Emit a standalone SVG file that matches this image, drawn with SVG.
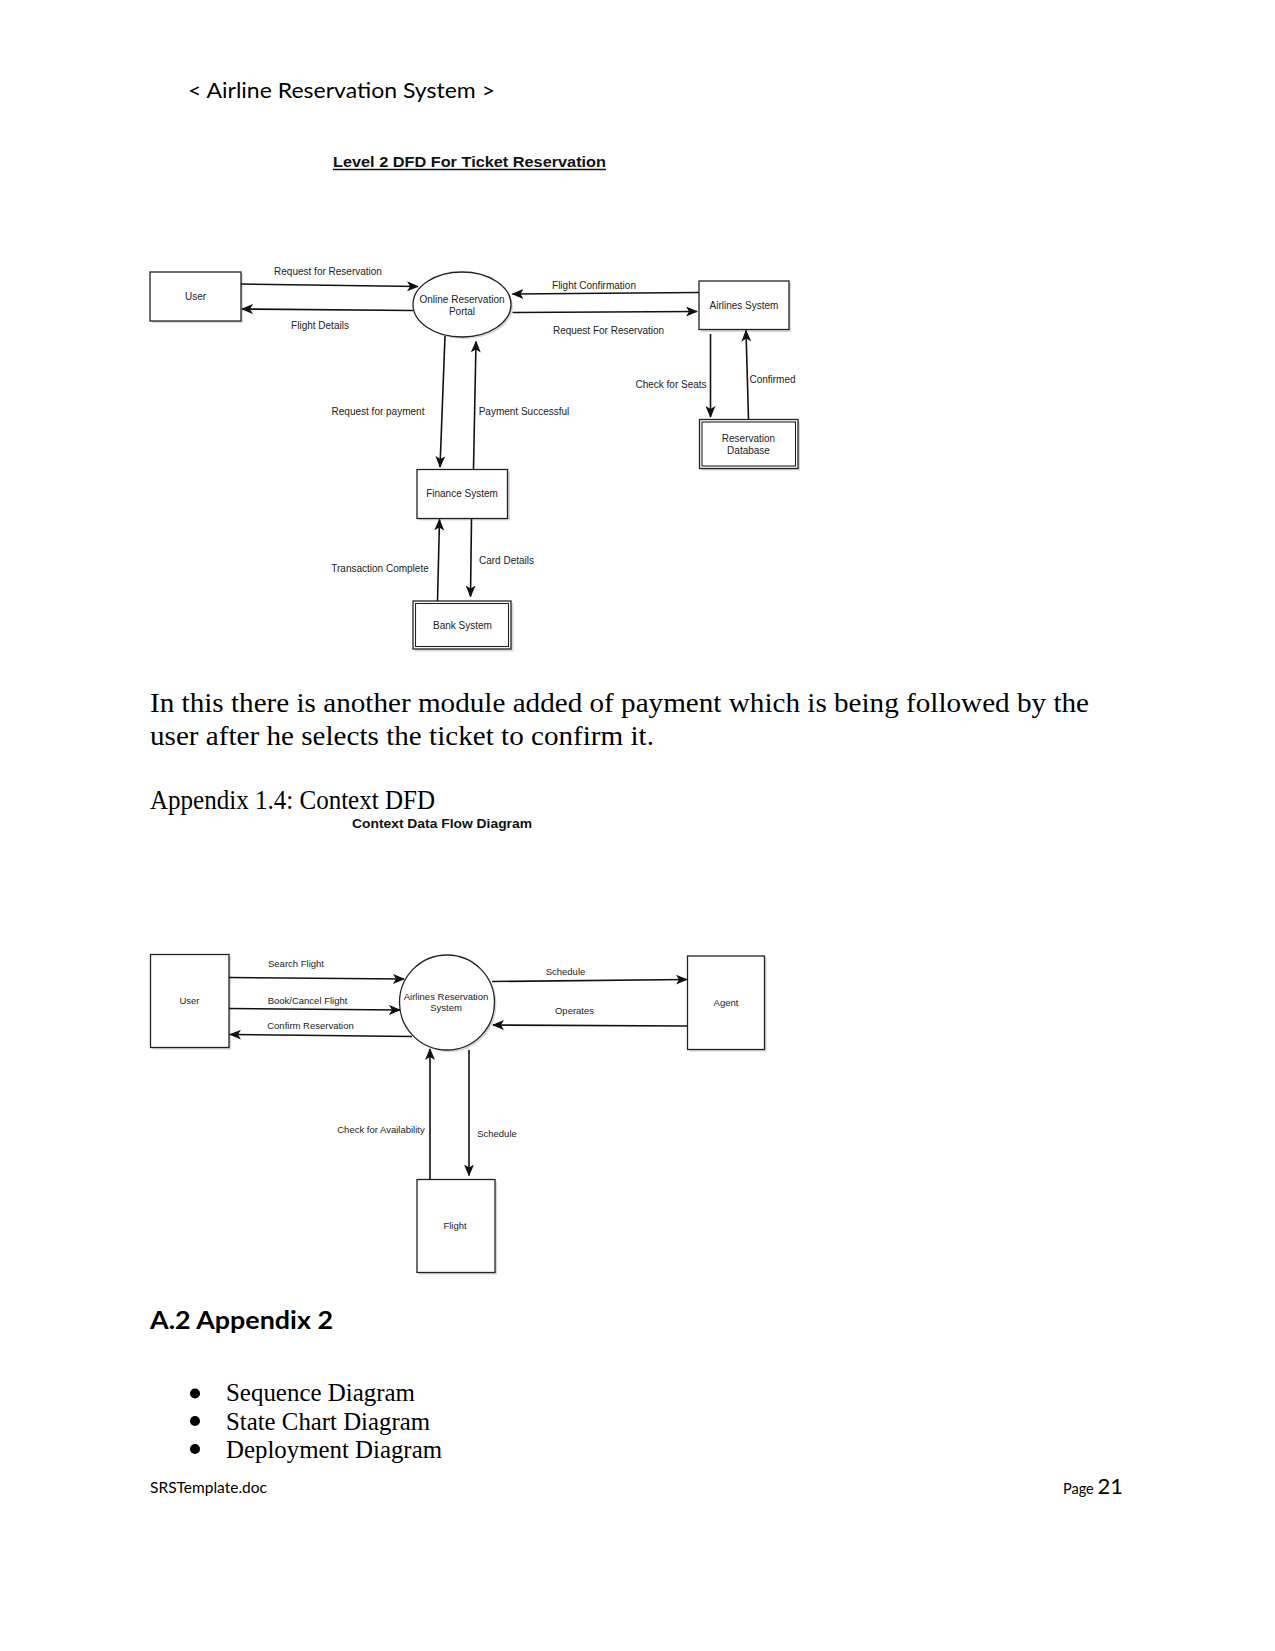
<svg xmlns="http://www.w3.org/2000/svg" width="1275" height="1651" viewBox="0 0 1275 1651">
<defs>
<style>
.bg{fill:#ffffff}
.box{fill:#ffffff;stroke:#222;stroke-width:1.3}
.shadow{fill:#d8d8d8;stroke:none}
.ln{stroke:#111;stroke-width:1.6;fill:none}
.lbl{font-family:"Liberation Sans",Arial,sans-serif;font-size:10px;fill:#222}
.lbl2{font-family:"Liberation Sans",Arial,sans-serif;font-size:9.5px;fill:#222}
.c{text-anchor:middle}
.serif{font-family:"Liberation Serif","Times New Roman",serif;fill:#000}
.lato{font-family:Lato,"Open Sans",sans-serif;fill:#000}
</style>
<marker id="ah" markerUnits="userSpaceOnUse" markerWidth="12" markerHeight="10" viewBox="0 0 12 10" refX="11" refY="5" orient="auto">
<path d="M0,0 L12,5 L0,10 L3,5 z" fill="#111"/>
</marker>
</defs>
<rect class="bg" x="0" y="0" width="1275" height="1651"/>

<!-- page texts -->
<text class="lato" x="188" y="98" font-size="21.5" textLength="307" lengthAdjust="spacingAndGlyphs">&lt; Airline Reservation System &gt;</text>
<text x="333" y="167" font-family="Liberation Sans,Arial,sans-serif" font-weight="bold" font-size="15" textLength="273" lengthAdjust="spacingAndGlyphs" fill="#111">Level 2 DFD For Ticket Reservation</text>
<line x1="333" y1="169.5" x2="606" y2="169.5" stroke="#111" stroke-width="1.3"/>

<!-- Level 2 DFD nodes -->
<g id="l2-user">
<rect class="shadow" x="152" y="274" width="91" height="49"/>
<rect class="box" x="150" y="272" width="91" height="49"/>
<text class="lbl c" x="195.5" y="300">User</text>
</g>
<g id="l2-portal">
<ellipse cx="464" cy="306.5" rx="49" ry="32.5" fill="#d8d8d8"/>
<ellipse cx="462" cy="304.5" rx="49" ry="32.5" class="box"/>
<text class="lbl c" x="462" y="303">Online Reservation</text>
<text class="lbl c" x="462" y="314.5">Portal</text>
</g>
<g id="l2-airlines">
<rect class="shadow" x="701" y="283" width="90" height="49"/>
<rect class="box" x="699" y="281" width="90" height="48.5"/>
<text class="lbl c" x="744" y="308.5">Airlines System</text>
</g>
<g id="l2-resdb">
<rect class="shadow" x="701.5" y="421.5" width="98.5" height="49"/>
<rect class="box" x="699.5" y="419.5" width="98.5" height="49"/>
<rect x="702" y="422" width="93.5" height="44" fill="none" stroke="#222" stroke-width="1.1"/>
<text class="lbl c" x="748.5" y="442">Reservation</text>
<text class="lbl c" x="748.5" y="453.5">Database</text>
</g>
<g id="l2-finance">
<rect class="shadow" x="419" y="471.5" width="91" height="49"/>
<rect class="box" x="417" y="469.5" width="90.5" height="49"/>
<text class="lbl c" x="462" y="496.5">Finance System</text>
</g>
<g id="l2-bank">
<rect class="shadow" x="415" y="603" width="98.5" height="48.5"/>
<rect class="box" x="413" y="601" width="98" height="48"/>
<rect x="415.5" y="603.5" width="93" height="43" fill="none" stroke="#222" stroke-width="1.1"/>
<text class="lbl c" x="462.5" y="628.5">Bank System</text>
</g>

<!-- Level 2 connectors -->
<g id="l2-connectors">
<line class="ln" x1="241" y1="284" x2="418" y2="286.5" marker-end="url(#ah)"/>
<text class="lbl c" x="328" y="275">Request for Reservation</text>
<line class="ln" x1="413" y1="310.5" x2="242" y2="309" marker-end="url(#ah)"/>
<text class="lbl c" x="320" y="329">Flight Details</text>
<line class="ln" x1="699" y1="292.5" x2="512.5" y2="294" marker-end="url(#ah)"/>
<text class="lbl c" x="594" y="289">Flight Confirmation</text>
<line class="ln" x1="512.5" y1="312.5" x2="697" y2="311.5" marker-end="url(#ah)"/>
<text class="lbl c" x="608.5" y="334">Request For Reservation</text>
<line class="ln" x1="710.5" y1="334" x2="710.5" y2="417" marker-end="url(#ah)"/>
<text class="lbl c" x="671" y="388">Check for Seats</text>
<line class="ln" x1="748.5" y1="419" x2="746" y2="330.5" marker-end="url(#ah)"/>
<text class="lbl c" x="772.5" y="382.5">Confirmed</text>
<line class="ln" x1="445" y1="336" x2="440" y2="467" marker-end="url(#ah)"/>
<text class="lbl c" x="378" y="414.5">Request for payment</text>
<line class="ln" x1="473.5" y1="469" x2="476" y2="341.5" marker-end="url(#ah)"/>
<text class="lbl c" x="524" y="414.5">Payment Successful</text>
<line class="ln" x1="437.5" y1="601" x2="439.5" y2="519.5" marker-end="url(#ah)"/>
<text class="lbl c" x="380" y="571.5">Transaction Complete</text>
<line class="ln" x1="471.5" y1="518.5" x2="470.5" y2="596.5" marker-end="url(#ah)"/>
<text class="lbl c" x="506.5" y="563.5">Card Details</text>
</g>

<!-- paragraph -->
<text class="serif" x="150" y="711.5" font-size="26.6" textLength="939" lengthAdjust="spacingAndGlyphs">In this there is another module added of payment which is being followed by the</text>
<text class="serif" x="150" y="745" font-size="26.6" textLength="504" lengthAdjust="spacingAndGlyphs">user after he selects the ticket to confirm it.</text>
<text class="serif" x="150" y="808.5" font-size="26.6" textLength="285" lengthAdjust="spacingAndGlyphs">Appendix 1.4: Context DFD</text>
<text x="352" y="828" font-family="Liberation Sans,Arial,sans-serif" font-weight="bold" font-size="12.5" textLength="180" lengthAdjust="spacingAndGlyphs" fill="#111">Context Data Flow Diagram</text>

<!-- Context DFD nodes -->
<g id="cx-user">
<rect class="shadow" x="152.5" y="956.5" width="78.5" height="93"/>
<rect class="box" x="150.5" y="954.5" width="78.5" height="93"/>
<text class="lbl2 c" x="189.5" y="1004">User</text>
</g>
<g id="cx-system">
<circle cx="449" cy="1004.5" r="47.5" fill="#d8d8d8"/>
<circle cx="447" cy="1002.5" r="47.5" class="box"/>
<text class="lbl2 c" x="446" y="1000">Airlines Reservation</text>
<text class="lbl2 c" x="446" y="1011">System</text>
</g>
<g id="cx-agent">
<rect class="shadow" x="689.5" y="958" width="77" height="93.5"/>
<rect class="box" x="687.5" y="956" width="77" height="93.5"/>
<text class="lbl2 c" x="726" y="1005.5">Agent</text>
</g>
<g id="cx-flight">
<rect class="shadow" x="419" y="1181.5" width="78" height="93"/>
<rect class="box" x="417" y="1179.5" width="78" height="93"/>
<text class="lbl2 c" x="455" y="1228.5">Flight</text>
</g>

<!-- Context connectors -->
<g id="cx-connectors">
<line class="ln" x1="229" y1="977.5" x2="404" y2="979" marker-end="url(#ah)"/>
<text class="lbl2 c" x="296" y="967">Search Flight</text>
<line class="ln" x1="229" y1="1008.5" x2="400" y2="1010" marker-end="url(#ah)"/>
<text class="lbl2 c" x="307.5" y="1004">Book/Cancel Flight</text>
<line class="ln" x1="412" y1="1036.5" x2="230" y2="1034.5" marker-end="url(#ah)"/>
<text class="lbl2 c" x="310.5" y="1029">Confirm Reservation</text>
<line class="ln" x1="492" y1="981.5" x2="687" y2="979.5" marker-end="url(#ah)"/>
<text class="lbl2 c" x="565.5" y="975">Schedule</text>
<line class="ln" x1="687" y1="1026" x2="493" y2="1025" marker-end="url(#ah)"/>
<text class="lbl2 c" x="574.5" y="1014">Operates</text>
<line class="ln" x1="430" y1="1179.5" x2="430" y2="1049" marker-end="url(#ah)"/>
<text class="lbl2 c" x="381" y="1132.5">Check for Availability</text>
<line class="ln" x1="469" y1="1050" x2="469" y2="1175.5" marker-end="url(#ah)"/>
<text class="lbl2 c" x="497" y="1136.5">Schedule</text>
</g>

<!-- Appendix 2 -->
<text class="lato" x="150" y="1328.5" font-size="24.5" font-weight="bold" textLength="183" lengthAdjust="spacingAndGlyphs">A.2 Appendix 2</text>
<circle cx="195" cy="1393.5" r="5" fill="#000"/>
<circle cx="195" cy="1421" r="5" fill="#000"/>
<circle cx="195" cy="1449" r="5" fill="#000"/>
<text class="serif" x="226" y="1401" font-size="24.5" textLength="189" lengthAdjust="spacingAndGlyphs">Sequence Diagram</text>
<text class="serif" x="226" y="1429.5" font-size="24.5" textLength="204" lengthAdjust="spacingAndGlyphs">State Chart Diagram</text>
<text class="serif" x="226" y="1457.5" font-size="24.5" textLength="216" lengthAdjust="spacingAndGlyphs">Deployment Diagram</text>

<!-- footer -->
<text class="lato" x="150" y="1493" font-size="15" textLength="117" lengthAdjust="spacingAndGlyphs">SRSTemplate.doc</text>
<text class="lato" x="1123" y="1494" text-anchor="end"><tspan font-size="14.5">Page </tspan><tspan font-size="22">21</tspan></text>
</svg>
